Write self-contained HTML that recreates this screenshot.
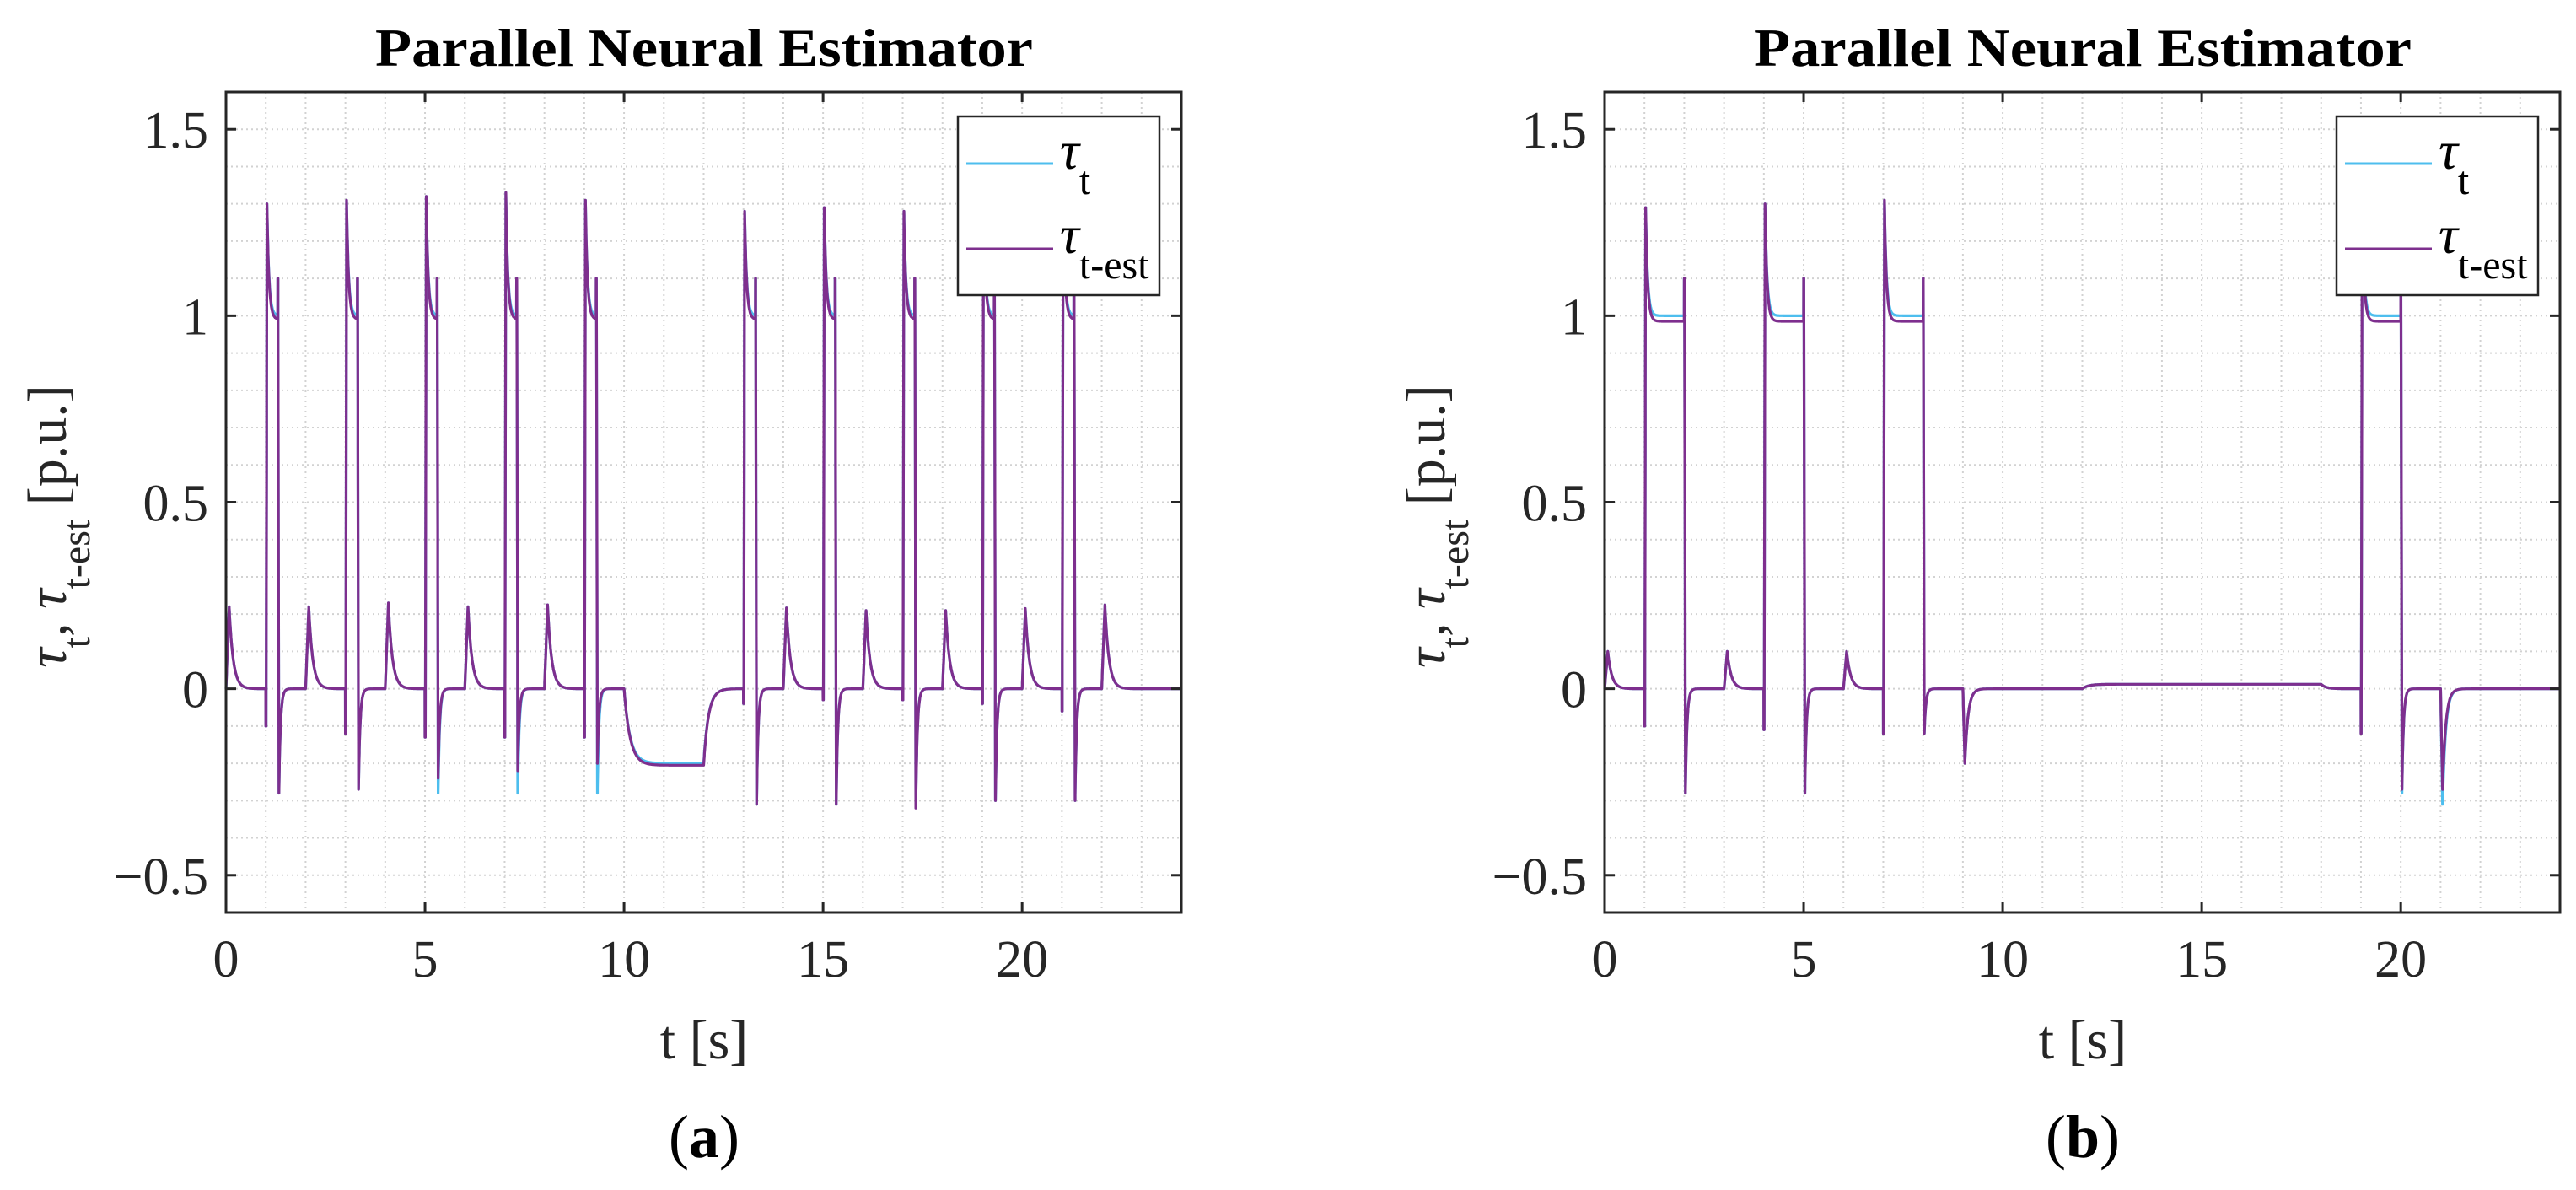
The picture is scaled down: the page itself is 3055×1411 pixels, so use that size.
<!DOCTYPE html>
<html><head><meta charset="utf-8">
<style>
html,body{margin:0;padding:0;background:#fff;}
svg{display:block;}
</style></head>
<body>
<svg id="fig" width="3055" height="1411" viewBox="0 0 3055 1411" xmlns="http://www.w3.org/2000/svg" font-family="'Liberation Serif', serif">
</svg>
<script>
// ===== Data: chart (a) =====
const bumpTimesA = [0, 2, 4, 6, 8, 14, 16, 18, 20, 22];
const bumpPeaksA = [0.22, 0.22, 0.23, 0.22, 0.225, 0.217, 0.21, 0.21, 0.215, 0.225];
const pulseStartsA = [1, 3, 5, 7, 9, 13, 15, 17, 19, 21];
const pulseEndsA = [1.3, 3.3, 5.3, 7.3, 9.3, 13.3, 15.3, 17.3, 19.3, 21.3];
const pulsePeaksA = [1.30, 1.31, 1.32, 1.33, 1.31, 1.28, 1.29, 1.28, 1.30, 1.29];
const preSpikesA = [-0.10, -0.12, -0.13, -0.13, -0.13, -0.04, -0.03, -0.03, -0.04, -0.06];
const holdLevelsA = [1.0, 1.0, 1.0, 1.0, 1.0, 1.0, 1.0, 1.0, 1.0, 1.0];
const holdLevelsEstA = [0.99, 0.99, 0.99, 0.99, 0.99, 0.99, 0.99, 0.99, 0.99, 0.99];
const endSpikesA = [1.1, 1.1, 1.1, 1.1, 1.1, 1.1, 1.1, 1.1, 1.1, 1.1];
const dipsTrueA = [-0.28, -0.27, -0.28, -0.28, -0.28, -0.31, -0.31, -0.31, -0.30, -0.30];
const dipsEstA = [-0.28, -0.27, -0.24, -0.22, -0.20, -0.31, -0.31, -0.32, -0.30, -0.30];
const levelStartsA = [10.0];
const levelEndsA = [12.0];
const levelValsA = [-0.20];
const levelValsEstA = [-0.205];
const extraDipTimesA = [];
const extraDipValsA = [];
const extraDipValsEstA = [];

// ===== Data: chart (b) =====
const bumpTimesB = [0, 3, 6];
const bumpPeaksB = [0.10, 0.10, 0.10];
const pulseStartsB = [1, 4, 7, 19];
const pulseEndsB = [2, 5, 8, 20];
const pulsePeaksB = [1.29, 1.30, 1.31, 1.30];
const preSpikesB = [-0.10, -0.11, -0.12, -0.12];
const holdLevelsB = [1.0, 1.0, 1.0, 1.0];
const holdLevelsEstB = [0.985, 0.985, 0.985, 0.985];
const endSpikesB = [1.1, 1.1, 1.1, 1.1];
const dipsTrueB = [-0.28, -0.28, -0.12, -0.28];
const dipsEstB = [-0.28, -0.28, -0.12, -0.27];
const levelStartsB = [12.0];
const levelEndsB = [18.0];
const levelValsB = [0.012];
const levelValsEstB = [0.012];
const extraDipTimesB = [9, 21];
const extraDipValsB = [-0.20, -0.31];
const extraDipValsEstB = [-0.20, -0.27];

const xTicks = [0, 5, 10, 15, 20];
const yTicks = [-0.5, 0, 0.5, 1, 1.5];
const yTickLabels = ["\u22120.5", "0", "0.5", "1", "1.5"];

// ===== Layout =====
const X0 = 268, X1 = 1401, Y0 = 109, Y1 = 1082;
const XMIN = 0, XMAX = 24, YMIN = -0.6, YMAX = 1.6;
const NS = "http://www.w3.org/2000/svg";
const svg = document.getElementById('fig');

function mk(tag, attrs, parent) {
  const e = document.createElementNS(NS, tag);
  for (const k in attrs) e.setAttribute(k, attrs[k]);
  (parent || svg).appendChild(e);
  return e;
}

function signal(t, d, est) {
  let v = 0;
  for (let i = 0; i < d.bumpT.length; i++) {
    const b = d.bumpT[i], p = d.bumpP[i];
    if (t >= b && t < b + 0.08) v += p * (t - b) / 0.08;
    else if (t >= b + 0.08) v += p * Math.exp(-(t - b - 0.08) / 0.1);
  }
  for (let i = 0; i < d.ps.length; i++) {
    const T = d.ps[i], E = d.pe[i], pk = d.pk[i], pre = d.pre[i];
    const hold = est ? d.holdE[i] : d.hold[i];
    const dip = est ? d.dipE[i] : d.dip[i];
    if (t >= T && t < T + 0.008) v += pre;
    else if (t >= T + 0.008 && t < T + 0.03) v += pre + (pk - pre) * (t - T - 0.008) / 0.022;
    else if (t >= T + 0.03 && t < E) v += hold + (pk - hold) * Math.exp(-(t - T - 0.03) / 0.05);
    else if (t >= E && t < E + 0.006) v += d.es[i];
    else if (t >= E + 0.006 && t < E + 0.03) v += d.es[i] + (dip - d.es[i]) * (t - E - 0.006) / 0.024;
    else if (t >= E + 0.03) v += dip * Math.exp(-(t - E - 0.03) / 0.04);
  }
  for (let i = 0; i < d.ls.length; i++) {
    const s = d.ls[i], e = d.le[i], lv = est ? d.lvE[i] : d.lv[i];
    if (t >= s && t < e) v += lv * (1 - Math.exp(-(t - s) / 0.15));
    else if (t >= e) v += lv * (1 - Math.exp(-(e - s) / 0.15)) * Math.exp(-(t - e) / 0.12);
  }
  for (let i = 0; i < d.xd.length; i++) {
    const s = d.xd[i], dv = est ? d.xvE[i] : d.xv[i];
    if (t >= s && t < s + 0.05) v += dv * (t - s) / 0.05;
    else if (t >= s + 0.05) v += dv * Math.exp(-(t - s - 0.05) / 0.08);
  }
  return v;
}

function drawChart(dx, d, label) {
  const g = mk('g', {});
  
  
  const sx = t => dx + X0 + (t - XMIN) / (XMAX - XMIN) * (X1 - X0);
  const sy = v => Y1 - (v - YMIN) / (YMAX - YMIN) * (Y1 - Y0);

  const grid = mk('g', {stroke: '#d2d2d2', 'stroke-width': 2, 'stroke-dasharray': '2,4'}, g);
  
  
  for (let t = 1; t < 24; t++) mk('line', {x1: sx(t), x2: sx(t), y1: Y0, y2: Y1}, grid);
  for (let k = -5; k <= 15; k++) { const v = k / 10; if (v > YMIN && v < YMAX) mk('line', {x1: dx + X0, x2: dx + X1, y1: sy(v), y2: sy(v)}, grid); }

  const cols = [['tau-t-line', '#4dbeee', false, 3.2], ['tau-t-est-line', '#7e2f8e', true, 3.2]];
  cols.forEach(c => {
    let pts = [];
    for (let i = 0; i <= 12000; i++) { const t = i * 0.002; pts.push(sx(t).toFixed(1) + ',' + sy(signal(t, d, c[2])).toFixed(1)); }
    const pl = mk('polyline', {points: pts.join(' '), fill: 'none', stroke: c[1], 'stroke-width': c[3], 'stroke-linejoin': 'round'}, g);
    
    
  });

  const box = mk('rect', {x: dx + X0, y: Y0, width: X1 - X0, height: Y1 - Y0, fill: 'none', stroke: '#262626', 'stroke-width': 3}, g);
  
  
  const ticks = mk('g', {stroke: '#262626', 'stroke-width': 3}, g);
  xTicks.forEach(t => {
    mk('line', {x1: sx(t), x2: sx(t), y1: Y1, y2: Y1 - 12}, ticks);
    mk('line', {x1: sx(t), x2: sx(t), y1: Y0, y2: Y0 + 12}, ticks);
    const tx = mk('text', {x: sx(t), y: 1158, 'text-anchor': 'middle', 'font-size': 62, fill: '#262626'}, g);
    tx.textContent = t;
    
    
  });
  yTicks.forEach((v, i) => {
    mk('line', {x1: dx + X0, x2: dx + X0 + 12, y1: sy(v), y2: sy(v)}, ticks);
    mk('line', {x1: dx + X1, x2: dx + X1 - 12, y1: sy(v), y2: sy(v)}, ticks);
    const ty = mk('text', {x: dx + 247, y: sy(v) + 22, 'text-anchor': 'end', 'font-size': 62, fill: '#262626'}, g);
    ty.textContent = yTickLabels[i];
    
    
  });

  const ti = mk('text', {x: dx + 835, y: 78, 'text-anchor': 'middle', 'font-size': 64, 'font-weight': 'bold', fill: '#000', textLength: 780, lengthAdjust: 'spacingAndGlyphs'}, g);
  ti.textContent = 'Parallel Neural Estimator';
  
  

  const xl = mk('text', {x: dx + 835, y: 1255, 'text-anchor': 'middle', 'font-size': 66, fill: '#262626'}, g);
  xl.textContent = 't [s]';
  
  

  const yl = mk('text', {transform: 'translate(' + (dx + 78) + ',792) rotate(-90)', 'font-size': 66, fill: '#262626'}, g);
  
  
  yl.innerHTML = '<tspan font-style="italic">τ</tspan><tspan font-size="48" dy="28">t</tspan><tspan dy="-28">, </tspan><tspan font-style="italic">τ</tspan><tspan font-size="48" dy="28">t-est</tspan><tspan dy="-28"> [p.u.]</tspan>';

  const cap = mk('text', {x: dx + 835, y: 1372, 'text-anchor': 'middle', 'font-size': 72, fill: '#000'}, g);
  cap.innerHTML = '(<tspan font-weight="bold">' + label + '</tspan>)';
  
  

  const lg = mk('g', {}, g);
  
  
  mk('rect', {x: dx + 1136, y: 138, width: 239, height: 212, fill: '#fff', stroke: '#262626', 'stroke-width': 2.5}, lg);
  const e1 = mk('g', {}, lg);
  
  
  mk('line', {x1: dx + 1146, x2: dx + 1249, y1: 194, y2: 194, stroke: '#4dbeee', 'stroke-width': 3}, e1);
  const t1 = mk('text', {x: dx + 1257, y: 200, 'font-size': 64, fill: '#000'}, e1);
  t1.innerHTML = '<tspan font-style="italic">τ</tspan><tspan font-size="48" dy="30">t</tspan>';
  const e2 = mk('g', {}, lg);
  
  
  mk('line', {x1: dx + 1146, x2: dx + 1249, y1: 295, y2: 295, stroke: '#7e2f8e', 'stroke-width': 3}, e2);
  const t2 = mk('text', {x: dx + 1257, y: 300, 'font-size': 64, fill: '#000'}, e2);
  t2.innerHTML = '<tspan font-style="italic">τ</tspan><tspan font-size="48" dy="30">t-est</tspan>';
}

drawChart(0, {
  bumpT: bumpTimesA, bumpP: bumpPeaksA, ps: pulseStartsA, pe: pulseEndsA, pk: pulsePeaksA, pre: preSpikesA,
  hold: holdLevelsA, holdE: holdLevelsEstA, es: endSpikesA, dip: dipsTrueA, dipE: dipsEstA,
  ls: levelStartsA, le: levelEndsA, lv: levelValsA, lvE: levelValsEstA,
  xd: extraDipTimesA, xv: extraDipValsA, xvE: extraDipValsEstA
}, 'a');
drawChart(1635, {
  bumpT: bumpTimesB, bumpP: bumpPeaksB, ps: pulseStartsB, pe: pulseEndsB, pk: pulsePeaksB, pre: preSpikesB,
  hold: holdLevelsB, holdE: holdLevelsEstB, es: endSpikesB, dip: dipsTrueB, dipE: dipsEstB,
  ls: levelStartsB, le: levelEndsB, lv: levelValsB, lvE: levelValsEstB,
  xd: extraDipTimesB, xv: extraDipValsB, xvE: extraDipValsEstB
}, 'b');
</script>
</body></html>
